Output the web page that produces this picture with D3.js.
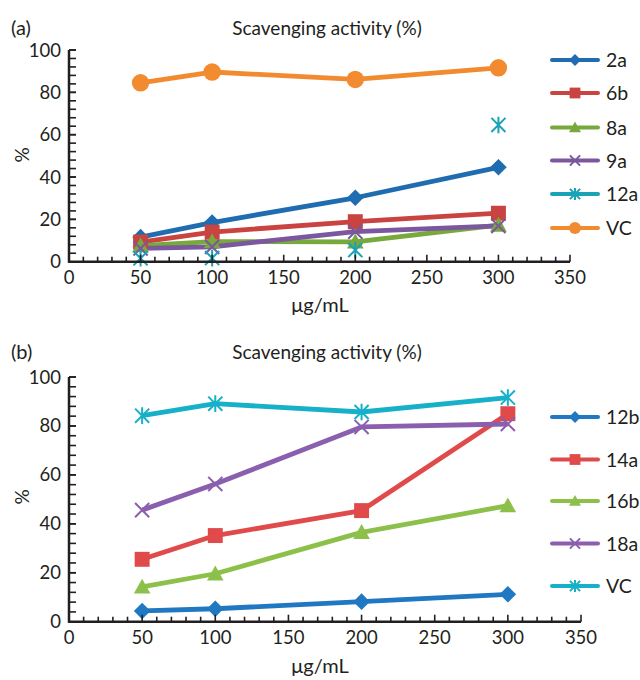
<!DOCTYPE html>
<html><head><meta charset="utf-8">
<script src="https://cdn.jsdelivr.net/npm/d3@7"></script>
<style>body{margin:0;background:#fff}svg{display:block}text{font-family:Lato,"Open Sans",sans-serif;fill:#231f20}</style>
</head><body><svg id="c" width="640" height="680"></svg>
<script>
const concentrations = [50, 100, 200, 300];
const xTickValues = [0, 50, 100, 150, 200, 250, 300, 350];
const yTickValues = [0, 20, 40, 60, 80, 100];

// Panel (a)
const namesA = ["2a", "6b", "8a", "9a", "12a", "VC"];
const colorsA = ["#1f6db0", "#c94340", "#77a93d", "#7a579e", "#1aa2b6", "#f28a30"];
const markersA = ["diamond", "square", "triangle", "x", "asterisk", "circle"];
const val2a = [11.6, 18.5, 30.2, 44.6];
const val6b = [9.3, 14.0, 18.9, 22.9];
const val8a = [7.6, 9.5, 9.4, 17.3];
const val9a = [6.3, 7.0, 14.2, 16.9];
const val12a = [1.6, 1.7, 5.5, 64.6];
const valVCa = [84.5, 89.6, 86.1, 91.6];
const valuesA = [val2a, val6b, val8a, val9a, val12a, valVCa];
const linesA = [true, true, true, true, false, true];

// Panel (b)
const namesB = ["12b", "14a", "16b", "18a", "VC"];
const colorsB = ["#1f78c1", "#e04a4a", "#8cc04b", "#8a5fae", "#17b0c9"];
const markersB = ["diamond", "square", "triangle", "x", "asterisk"];
const val12b = [4.4, 5.3, 8.2, 11.2];
const val14a = [25.5, 35.2, 45.4, 85.0];
const val16b = [14.2, 19.6, 36.5, 47.4];
const val18a = [45.6, 56.3, 79.6, 80.8];
const valVCb = [84.2, 89.1, 85.7, 91.6];
const valuesB = [val12b, val14a, val16b, val18a, valVCb];
const linesB = [true, true, true, true, true];

const svg = d3.select("#c");

function marker(g, type, color, s) {
  if (type === "circle") {
    g.append("circle").attr("r", s).attr("fill", color);
  } else if (type === "square") {
    g.append("rect").attr("x", -s*0.9).attr("y", -s*0.9).attr("width", s*1.8).attr("height", s*1.8).attr("fill", color);
  } else if (type === "diamond") {
    g.append("path").attr("d", `M0,${-s}L${s},0L0,${s}L${-s},0Z`).attr("fill", color);
  } else if (type === "triangle") {
    g.append("path").attr("d", `M0,${-s}L${s},${s*0.8}L${-s},${s*0.8}Z`).attr("fill", color);
  } else if (type === "x") {
    const h = s*0.85;
    g.append("path").attr("d", `M${-h},${-h}L${h},${h}M${-h},${h}L${h},${-h}`).attr("stroke", color).attr("stroke-width", 2);
  } else if (type === "asterisk") {
    const h = s*0.85;
    g.append("path").attr("d", `M${-h},${-h}L${h},${h}M${-h},${h}L${h},${-h}M0,${-s}L0,${s}`).attr("stroke", color).attr("stroke-width", 2);
  }
}

function panel(opt) {
  const x = d3.scaleLinear().domain([0, 350]).range([69, opt.xEnd]);
  const y = d3.scaleLinear().domain([0, 100]).range([opt.y0, opt.y100]);
  const g = svg.append("g");

  opt.values.forEach((vals, i) => {
    const pts = concentrations.map((c, j) => [x(c), y(vals[j])]);
    if (opt.lines[i]) {
      g.append("path").attr("d", d3.line()(pts)).attr("fill", "none")
        .attr("stroke", opt.colors[i]).attr("stroke-width", 4.8).attr("stroke-linejoin", "round");
    }
  });
  opt.values.forEach((vals, i) => {
    concentrations.forEach((c, j) => {
      const m = g.append("g").attr("transform", `translate(${x(c)},${y(vals[j])})`);
      marker(m, opt.markers[i], opt.colors[i], opt.markers[i] === "circle" ? 8.7 : 8.3);
    });
  });

  const ax = g.append("g").attr("stroke", "#231f20");
  ax.append("line").attr("x1", x(0)).attr("x2", x(350)).attr("y1", y(0)).attr("y2", y(0)).attr("stroke-width", 2.5);
  ax.append("line").attr("x1", x(0)).attr("x2", x(0)).attr("y1", y(0)+1.2).attr("y2", y(100)).attr("stroke-width", 2.5);
  d3.range(10, 351, 10).forEach(v => {
    const len = v % 50 === 0 ? 7 : 5;
    ax.append("line").attr("x1", x(v)).attr("x2", x(v)).attr("y1", y(0)).attr("y2", y(0)-len).attr("stroke-width", 1.6);
  });
  d3.range(4, 101, 4).forEach(v => {
    ax.append("line").attr("x1", x(0)).attr("x2", x(0)+7).attr("y1", y(v)).attr("y2", y(v)).attr("stroke-width", 1.6);
  });
  yTickValues.forEach(v => {
    if (v === 0) return;
    ax.append("line").attr("x1", x(0)).attr("x2", x(0)+7).attr("y1", y(v)).attr("y2", y(v)).attr("stroke-width", 1.6);
  });

  xTickValues.forEach(v => {
    g.append("text").attr("x", x(v)).attr("y", y(0) + 22).attr("text-anchor", "middle")
      .attr("font-size", 18.5).text(v);
  });
  yTickValues.forEach(v => {
    g.append("text").attr("x", 61).attr("y", y(v) + 6.5).attr("text-anchor", "end")
      .attr("font-size", 18.5).text(v);
  });

  g.append("text").attr("x", 11).attr("y", opt.titleY).attr("font-size", 20).text(opt.label);
  g.append("text").attr("x", 327).attr("y", opt.titleY).attr("text-anchor", "middle").attr("font-size", 19).text("Scavenging activity (%)");
  g.append("text").attr("transform", `translate(29,${opt.pctY}) rotate(-90)`).attr("text-anchor", "middle").attr("font-size", 19).text("%");
  g.append("text").attr("x", 320).attr("y", opt.unitY).attr("text-anchor", "middle").attr("font-size", 20).text("μg/mL");

  opt.names.forEach((n, i) => {
    const ly = opt.legY[i];
    const lg = g.append("g");
    lg.append("line").attr("x1", 552).attr("x2", 598).attr("y1", ly).attr("y2", ly)
      .attr("stroke", opt.colors[i]).attr("stroke-width", 4).attr("stroke-linecap", "round");
    const m = lg.append("g").attr("transform", `translate(575,${ly})`);
    marker(m, opt.markers[i], opt.colors[i], 6);
    lg.append("text").attr("x", 606).attr("y", ly + 7).attr("font-size", 19.5).text(n);
  });
}

panel({ values: valuesA, names: namesA, colors: colorsA, markers: markersA, lines: linesA,
  xEnd: 570, y0: 261.7, y100: 50, titleY: 35, label: "(a)", pctY: 155, unitY: 312,
  legY: [60, 93, 127.5, 160.5, 194, 228] });
panel({ values: valuesB, names: namesB, colors: colorsB, markers: markersB, lines: linesB,
  xEnd: 581, y0: 621.7, y100: 377, titleY: 359, label: "(b)", pctY: 497, unitY: 673,
  legY: [417, 459.5, 501, 543.5, 586] });
</script></body></html>
